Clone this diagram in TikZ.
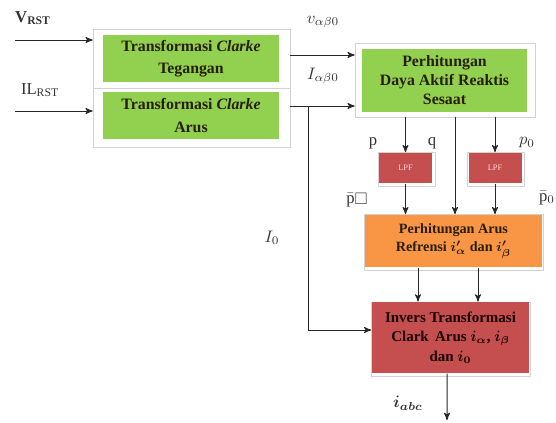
\documentclass[tikz,border=0pt]{standalone}
\usepackage{amssymb, amsmath}
\usepackage{bm}
\usepackage{fontspec}
\setmainfont{Liberation Serif}[BoldFont={Liberation Serif Bold},ItalicFont={Liberation Serif Italic},BoldItalicFont={Liberation Serif Bold Italic}]
\usepackage{tikz}
\usetikzlibrary{arrows,positioning}
\definecolor{blokhijau}{RGB}{146,208,80}
\definecolor{blokmerah}{RGB}{196,79,78}
\definecolor{blokoranye}{RGB}{248,150,70}
\definecolor{teksgelap}{RGB}{40,30,10}

\begin{document}
\begin{tikzpicture}[x=0.6pt,y=-0.6pt,->,>=stealth',semithick,draw=black!85]
                  \tikzstyle{frame}=[draw=gray!35,thin,fill=white,inner sep=0pt]
                  \tikzstyle{green block}=[fill=blokhijau,text=teksgelap,align=center,inner sep=0pt,font=\bfseries\fontsize{9.5}{13.5}\selectfont]
                  \tikzstyle{lpf block}=[fill=blokmerah,text=red!15,inner sep=0pt,minimum width=31.8pt,minimum height=18pt,font=\fontsize{5}{6}\selectfont]
                  \tikzstyle{label}=[text=black!80,inner sep=1pt,font=\fontsize{10}{12}\selectfont]

                  \useasboundingbox (0,0) rectangle (556,422);

                  % Clarke blocks
                  \node[frame,minimum width=118.2pt,minimum height=35.4pt] (frameV) at (191.5,58.5) {};
                  \node[green block,minimum width=105.6pt,minimum height=28.2pt] (clarkeV) at (191,58.5) {Transformasi \textit{Clarke}\\Tegangan};
                  \node[frame,minimum width=118.2pt,minimum height=35.4pt] (frameI) at (191.5,117.5) {};
                  \node[green block,minimum width=105.6pt,minimum height=28.2pt] (clarkeI) at (191,115.5) {Transformasi \textit{Clarke}\\Arus};

                  % power calculation
                  \node[frame,minimum width=108pt,minimum height=44.4pt] (frameP) at (445,80) {};
                  \node[green block,minimum width=99pt,minimum height=37.8pt,font=\bfseries\fontsize{9.5}{11.4}\selectfont] (daya) at (444.5,80.5) {Perhitungan\\Daya Aktif Reaktis\\Sesaat};

                  % filters
                  \node[frame,minimum width=34.2pt,minimum height=20.4pt] (frameA) at (406.5,169.5) {};
                  \node[lpf block] (lpfA) at (405.5,168) {LPF};
                  \node[frame,minimum width=34.2pt,minimum height=20.4pt] (frameB) at (496,169.5) {};
                  \node[lpf block] (lpfB) at (495,168) {LPF};

                  % reference current
                  \node[frame,minimum width=107.4pt,minimum height=33.6pt] (frameR) at (454,242.5) {};
                  \node[green block,fill=blokoranye,minimum width=106.2pt,minimum height=31.2pt,font=\bfseries\fontsize{8.5}{10.8}\selectfont] (refArus) at (453.5,241) {Perhitungan Arus\\Refrensi $\bm{i'_{\alpha}}$ dan $\bm{i'_{\beta}}$};

                  % inverse Clarke
                  \node[frame,minimum width=95.4pt,minimum height=44.4pt] (frameInv) at (451,339) {};
                  \node[green block,fill=blokmerah,text=black!90!red,minimum width=94.2pt,minimum height=42.6pt,font=\bfseries\fontsize{9}{11.7}\selectfont] (inv) at (450.5,337.5) {Invers Transformasi\\Clark\, Arus $\bm{i_{\alpha}}$, $\bm{i_{\beta}}$\\dan $\bm{i_{0}}$};

                  % labels
                  \node[label] (lblV) at (33,18) {\textbf{V}\textsubscript{\textbf{RST}}};
                  \node[label] (lblI) at (40,90) {IL\textsubscript{RST}};
                  \node[label] (lblvab) at (323,22) {$v_{\alpha\beta 0}$};
                  \node[label] (lbliab) at (323,76) {$I_{\alpha\beta 0}$};
                  \node[label] (lblp) at (373,143) {p};
                  \node[label] (lblq) at (432,143) {q};
                  \node[label] (lblpo) at (527,143) {$p_0$};
                  \node[label] (lblpbar) at (357,200) {$\bar{\mathrm{p}}$\raisebox{-0.5pt}{$\square$}};
                  \node[label] (lblpobar) at (547,198) {$\bar{\mathrm{p}}_0$};
                  \node[label] (lblizero) at (272,238) {$I_0$};
                  \node[label] (lbliabc) at (408,403) {$\bm{i_{abc}}$};

                  % free ends
                  \coordinate (vin) at (15,40);
                  \coordinate (iin) at (15,111);
                  \coordinate (vab) at (290,55);
                  \coordinate (iab) at (290,106);
                  \coordinate (ibend) at (308,106);
                  \coordinate (izero) at (308,330);
                  \coordinate (iabc) at (447,420);

                  \draw (vin) -- (vin -| frameV.west);
                  \draw (iin) -- (iin -| frameI.west);
                  \draw (vab) -- (vab -| frameP.west);
                  \draw (iab) -- (iab -| frameP.west);
                  \draw[-] (ibend) -- (izero);
                  \draw (izero) -- (izero -| frameInv.west);

                  \draw (lpfA.north |- frameP.south) -- (frameA.north -| lpfA);
                  \draw ([xshift=6pt]frameP.south) -- ([xshift=6pt]frameP.south |- frameR.north);
                  \draw (lpfB.north |- frameP.south) -- (frameB.north -| lpfB);
                  \draw (lpfA.south) -- (lpfA.south |- frameR.north);
                  \draw (lpfB.south) -- (lpfB.south |- frameR.north);

                  \draw ([xshift=-21.3pt]refArus.south) -- ([xshift=-21.3pt]refArus.south |- inv.north);
                  \draw ([xshift=14.7pt]refArus.south) -- ([xshift=14.7pt]refArus.south |- inv.north);
                  \draw ([xshift=-2.1pt]inv.south) -- (iabc);
                \end{tikzpicture}
\end{document}
